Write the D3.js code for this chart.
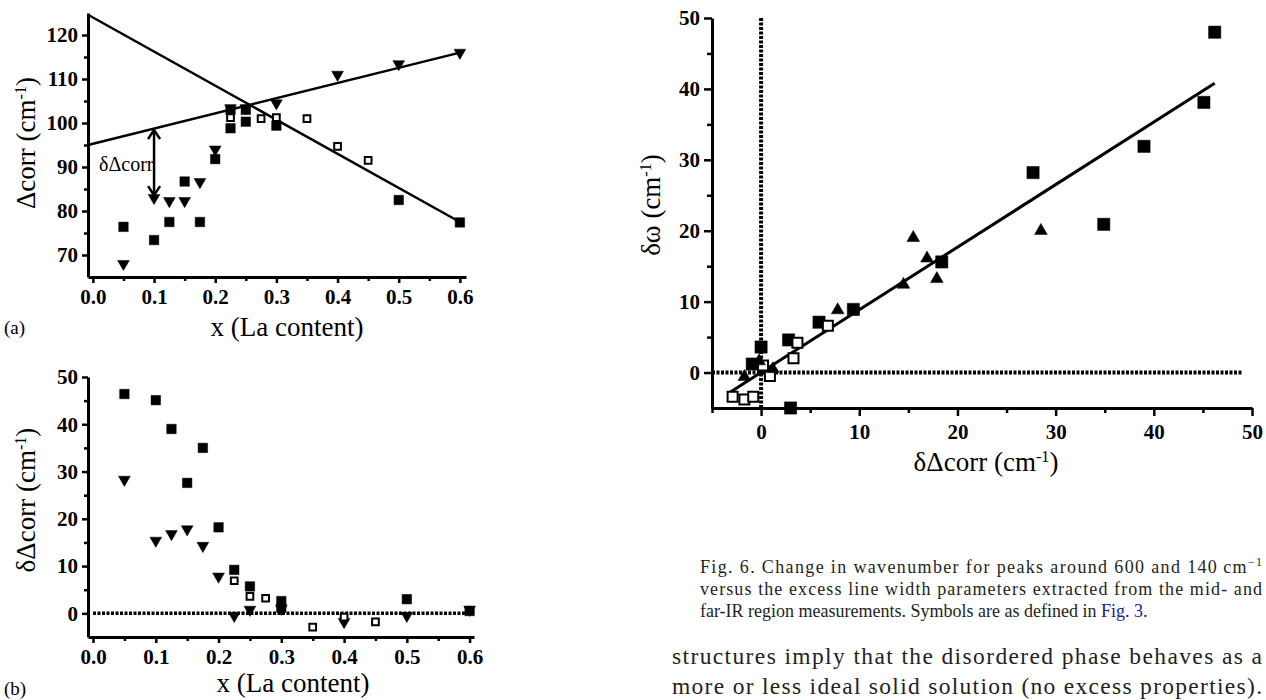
<!DOCTYPE html>
<html>
<head>
<meta charset="utf-8">
<script src="https://cdn.jsdelivr.net/npm/d3@7"></script>
<style>
  body { margin: 0; background: #fff; }
  svg text { font-family: "Liberation Serif", "Times New Roman", serif; fill: #000; }
  .axis .domain { stroke: #000; stroke-width: 3; }
  .axis .tick line { stroke: #000; stroke-width: 2.5; }
  .axis .tick text { font-size: 21px; font-weight: bold; }
  .title { font-size: 27px; }
  .title-c { font-size: 27px; }
  .caption { font-size: 18px; fill: #231f20; }
  .body-text { font-size: 23.5px; fill: #231f20; }
</style>
</head>
<body>
<svg id="fig" width="1266" height="700"></svg>
<script>
// ---- panel (a): Δcorr vs La content ----
const aSquareX = [0.05, 0.1, 0.125, 0.15, 0.175, 0.2, 0.225, 0.225, 0.25, 0.25, 0.3, 0.5, 0.6];
const aSquareY = [76.4, 73.4, 77.5, 86.7, 77.5, 91.8, 98.8, 103, 100.3, 103, 99.4, 82.5, 77.4];
const aTriX = [0.05, 0.1, 0.125, 0.15, 0.175, 0.2, 0.225, 0.25, 0.3, 0.4, 0.5, 0.6];
const aTriY = [68, 83, 82.3, 82.3, 86.6, 94, 103.4, 103.4, 104.5, 111, 113.4, 116];
const aOpenX = [0.225, 0.275, 0.3, 0.35, 0.4, 0.45];
const aOpenY = [101.2, 101, 101.2, 101, 94.7, 91.5];
const aLineUp = [[-0.008, 95], [0.6, 116]];
const aLineDown = [[-0.008, 124.6], [0.6, 77.5]];
const aArrow = [[0.1, 98.4], [0.1, 83.6]];
const aXTicks = [0, 0.1, 0.2, 0.3, 0.4, 0.5, 0.6];
const aYTicks = [70, 80, 90, 100, 110, 120];

// ---- panel (b): δΔcorr vs La content ----
const bSquareX = [0.05, 0.1, 0.125, 0.15, 0.175, 0.2, 0.225, 0.25, 0.3, 0.3, 0.5, 0.6];
const bSquareY = [46.4, 45.1, 39, 27.6, 35, 18.2, 9.2, 5.7, 2.6, 1.2, 3, 0.5];
const bTriX = [0.05, 0.1, 0.125, 0.15, 0.175, 0.2, 0.225, 0.25, 0.3, 0.4, 0.5, 0.6];
const bTriY = [28.3, 15.4, 16.8, 17.8, 14.3, 7.8, -0.5, 0.8, 1, -1.8, -0.5, 0.8];
const bOpenX = [0.225, 0.25, 0.275, 0.35, 0.4, 0.45];
const bOpenY = [6.9, 3.6, 3.2, -2.9, -0.8, -1.8];
const bXTicks = [0, 0.1, 0.2, 0.3, 0.4, 0.5, 0.6];
const bYTicks = [0, 10, 20, 30, 40, 50];

// ---- right panel: δω vs δΔcorr ----
const cSquareX = [46.2, 45.1, 39, 27.7, 34.9, 18.4, 9.4, 5.9, 2.8, 0, -0.9, 3.0];
const cSquareY = [48, 38.1, 31.9, 28.2, 20.9, 15.6, 8.9, 7.1, 4.6, 3.6, 1.2, -5];
const cOpenX = [-2.9, -1.7, -0.8, 3.3, 3.7, 6.8, 0.9, 0.2];
const cOpenY = [-3.4, -3.8, -3.4, 2.0, 4.2, 6.6, -0.5, 1];
const cTriX = [-1.7, -0.2, 1.2, 7.8, 14.5, 15.5, 16.9, 17.9, 28.5];
const cTriY = [-0.6, 1.6, 0.5, 8.8, 12.4, 19, 16.1, 13.2, 20];
const cFit = [[-3.2, -2.8], [46.2, 40.8]];
const cXTicks = [0, 10, 20, 30, 40, 50];
const cYTicks = [0, 10, 20, 30, 40, 50];

const svg = d3.select("#fig");

// builds one panel: scales, major + minor ticks, returns the scales
function drawPanel(cfg) {
  const g = svg.append("g");
  const x = d3.scaleLinear().domain(cfg.xDomain).range(cfg.xRange);
  const y = d3.scaleLinear().domain(cfg.yDomain).range(cfg.yRange);
  const bottom = cfg.yRange[0], left = cfg.xRange[0];

  // minor ticks first (no labels)
  g.append("g").attr("class", "axis")
    .attr("transform", `translate(0,${bottom})`)
    .call(d3.axisBottom(x).tickValues(cfg.xMinor).tickSize(cfg.minorLen).tickSizeOuter(0).tickFormat(""))
    .call(a => a.select(".domain").remove());
  g.append("g").attr("class", "axis")
    .attr("transform", `translate(${left},0)`)
    .call(d3.axisLeft(y).tickValues(cfg.yMinor).tickSize(cfg.minorLen).tickSizeOuter(0).tickFormat(""))
    .call(a => a.select(".domain").remove());

  g.append("g").attr("class", "axis")
    .attr("transform", `translate(0,${bottom})`)
    .call(d3.axisBottom(x).tickValues(cfg.xTicks).tickSize(cfg.majorLen).tickSizeOuter(0)
      .tickPadding(cfg.xPad).tickFormat(cfg.xFormat));
  g.append("g").attr("class", "axis")
    .attr("transform", `translate(${left},0)`)
    .call(d3.axisLeft(y).tickValues(cfg.yTicks).tickSize(cfg.majorLen).tickSizeOuter(0)
      .tickPadding(cfg.yPad).tickFormat(d3.format("d")));
  return { g, x, y };
}

function drawPoints(p, xs, ys, kind, size) {
  const sym = kind === "square" || kind === "open" ? d3.symbolSquare : d3.symbolTriangle;
  const path = d3.symbol(sym, size);
  p.g.append("g").selectAll("path")
    .data(xs.map((v, i) => [v, ys[i]]))
    .join("path")
    .attr("d", path)
    .attr("transform", d => `translate(${p.x(d[0])},${p.y(d[1])})` + (kind === "down" ? " rotate(180)" : ""))
    .attr("fill", kind === "open" ? "#fff" : "#000")
    .attr("stroke", "#000")
    .attr("stroke-width", kind === "open" ? 2 : 0.5);
}

function drawLine(p, pts, width, dash) {
  p.g.append("path")
    .attr("d", d3.line().x(d => p.x(d[0])).y(d => p.y(d[1]))(pts))
    .attr("fill", "none").attr("stroke", "#000").attr("stroke-width", width)
    .attr("stroke-dasharray", dash || null);
}

function yTitle(cls, x, y, main, after) {
  const t = svg.append("text").attr("class", cls)
    .attr("text-anchor", "middle")
    .attr("transform", `translate(${x},${y}) rotate(-90)`);
  t.append("tspan").text(main);
  t.append("tspan").attr("baseline-shift", "super").attr("font-size", "0.6em").text("-1");
  t.append("tspan").text(after);
}

function xTitle(cls, x, y, main, sup, after) {
  const t = svg.append("text").attr("class", cls)
    .attr("text-anchor", "middle").attr("x", x).attr("y", y);
  t.append("tspan").text(main);
  if (sup) {
    t.append("tspan").attr("baseline-shift", "super").attr("font-size", "0.6em").text(sup);
    t.append("tspan").text(after);
  }
}

// ---------- panel (a) ----------
const pa = drawPanel({
  xDomain: [-0.008, 0.61], xRange: [88, 466],
  yDomain: [65, 125], yRange: [277, 13],
  xTicks: aXTicks, yTicks: aYTicks,
  xMinor: d3.range(0.05, 0.6, 0.1), yMinor: [75, 85, 95, 105, 115],
  majorLen: 6, minorLen: 4, xPad: 6, yPad: 4,
  xFormat: d3.format(".1f")
});
drawLine(pa, aLineUp, 2.5);
drawLine(pa, aLineDown, 2.5);
drawPoints(pa, aSquareX, aSquareY, "square", 90);
drawPoints(pa, aTriX, aTriY, "down", 60);
drawPoints(pa, aOpenX, aOpenY, "open", 45);

// double arrow between the line and the point
{
  const ax = pa.x(aArrow[0][0]), y1 = pa.y(aArrow[0][1]), y2 = pa.y(aArrow[1][1]);
  pa.g.append("line").attr("x1", ax).attr("x2", ax).attr("y1", y1).attr("y2", y2)
    .attr("stroke", "#000").attr("stroke-width", 2.5);
  pa.g.append("path").attr("d", `M${ax - 6},${y1 + 9}L${ax},${y1}L${ax + 6},${y1 + 9}`)
    .attr("fill", "none").attr("stroke", "#000").attr("stroke-width", 2.5);
  pa.g.append("path").attr("d", `M${ax - 6},${y2 - 9}L${ax},${y2}L${ax + 6},${y2 - 9}`)
    .attr("fill", "none").attr("stroke", "#000").attr("stroke-width", 2.5);
}
svg.append("text").attr("x", 99).attr("y", 171).attr("font-size", "20px").text("δΔcorr");

yTitle("title", 35, 143, "Δcorr (cm", ")");
xTitle("title", 287, 336, "x (La content)");
svg.append("text").attr("x", 4).attr("y", 334).attr("font-size", "19px").text("(a)");

// ---------- panel (b) ----------
const pb = drawPanel({
  xDomain: [-0.008, 0.607], xRange: [88, 474],
  yDomain: [-5, 50], yRange: [637, 377],
  xTicks: bXTicks, yTicks: bYTicks,
  xMinor: d3.range(0.05, 0.6, 0.1), yMinor: [5, 15, 25, 35, 45],
  majorLen: 6, minorLen: 4, xPad: 6, yPad: 4,
  xFormat: d3.format(".1f")
});
drawLine(pb, [[0, 0], [0.607, 0]], 3.5, "3,1.5");
drawPoints(pb, bSquareX, bSquareY, "square", 90);
drawPoints(pb, bTriX, bTriY, "down", 60);
drawPoints(pb, bOpenX, bOpenY, "open", 45);

yTitle("title", 35, 500, "δΔcorr (cm", ")");
xTitle("title", 293, 692, "x (La content)");
svg.append("text").attr("x", 4).attr("y", 695).attr("font-size", "19px").text("(b)");

// ---------- right panel ----------
const pc = drawPanel({
  xDomain: [-5, 50], xRange: [712, 1252],
  yDomain: [-5, 50], yRange: [408, 18],
  xTicks: cXTicks, yTicks: cYTicks,
  xMinor: [-5, 5, 15, 25, 35, 45], yMinor: [5, 15, 25, 35, 45],
  majorLen: 8, minorLen: 5, xPad: 8, yPad: 4,
  xFormat: d3.format("d")
});
drawLine(pc, [[0, -5], [0, 50]], 4, "3,1.5");
drawLine(pc, [[-5, 0], [49, 0]], 4, "3,1.5");
drawLine(pc, cFit, 3);
drawPoints(pc, cSquareX, cSquareY, "square", 150);
drawPoints(pc, cOpenX, cOpenY, "open", 100);
drawPoints(pc, cTriX, cTriY, "up", 70);

yTitle("title-c", 660, 205, "δω (cm", ")");
xTitle("title-c", 986, 471, "δΔcorr (cm", "-1", ")");

// ---------- caption and body text ----------
{
  const l1 = svg.append("text").attr("class", "caption").attr("x", 700).attr("y", 573)
    .attr("textLength", 562).attr("lengthAdjust", "spacing");
  l1.append("tspan").text("Fig. 6. Change in wavenumber for peaks around 600 and 140\u2009cm");
  l1.append("tspan").attr("baseline-shift", "super").attr("font-size", "12px").text("\u22121");
  svg.append("text").attr("class", "caption").attr("x", 700).attr("y", 595)
    .attr("textLength", 562).attr("lengthAdjust", "spacing")
    .text("versus the excess line width parameters extracted from the mid- and");
  const l3 = svg.append("text").attr("class", "caption").attr("x", 700).attr("y", 617);
  l3.append("tspan").text("far-IR region measurements. Symbols are as defined in ");
  l3.append("tspan").attr("fill", "#1c1c8a").text("Fig. 3");
  l3.append("tspan").text(".");

  svg.append("text").attr("class", "body-text").attr("x", 672).attr("y", 664)
    .attr("textLength", 590).attr("lengthAdjust", "spacing")
    .text("structures imply that the disordered phase behaves as a");
  svg.append("text").attr("class", "body-text").attr("x", 672).attr("y", 694)
    .attr("textLength", 590).attr("lengthAdjust", "spacing")
    .text("more or less ideal solid solution (no excess properties).");
}
</script>
</body>
</html>
